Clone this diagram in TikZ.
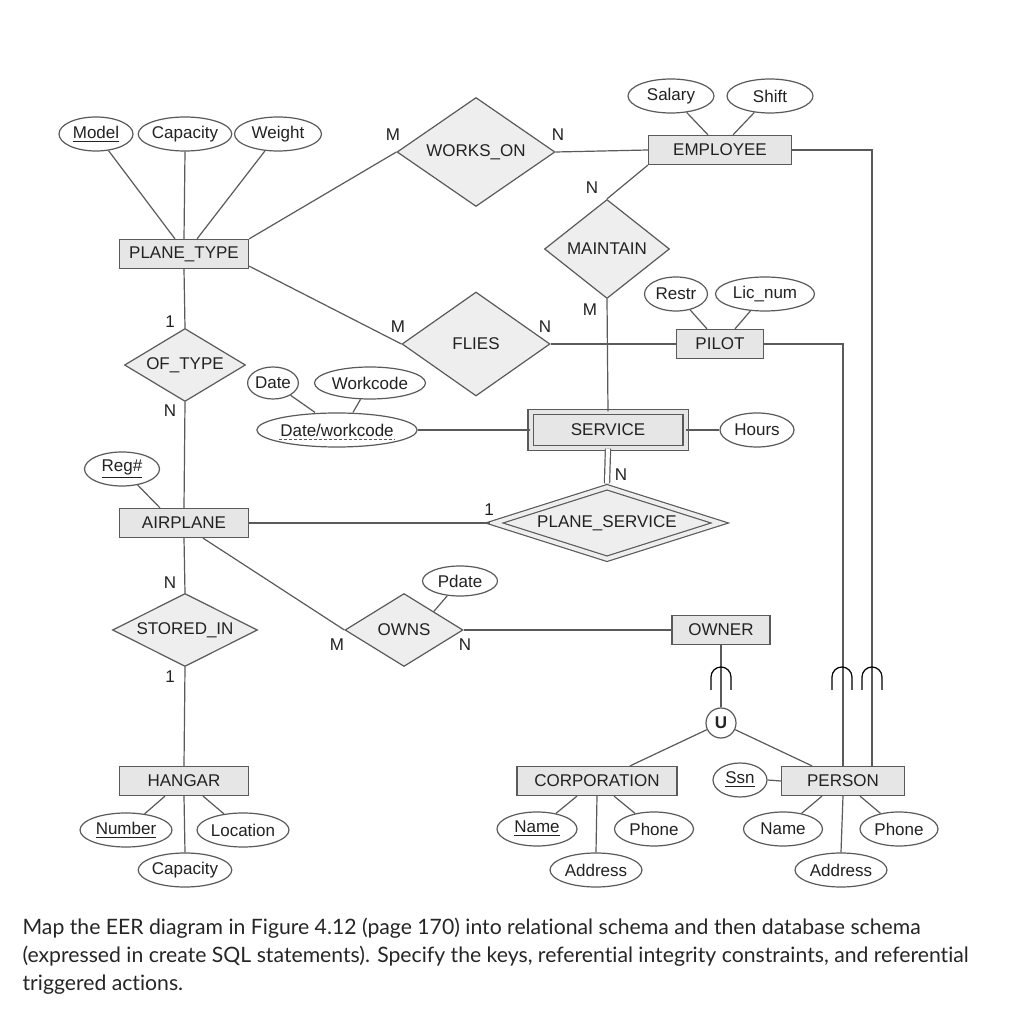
\documentclass[tikz,border=0pt]{standalone}
\usepackage{fontspec}
\setmainfont{Liberation Sans}
\newfontfamily\taskfont[Ligatures=NoCommon]{Lato}
\usetikzlibrary{shapes.geometric}
\definecolor{erline}{HTML}{5A5A5A}
\definecolor{erbox}{HTML}{E6E6E6}
\definecolor{erdia}{HTML}{EEEEEE}
\definecolor{ertext}{HTML}{222222}

\begin{document}
\begin{tikzpicture}[x=0.5pt,y=-0.5pt,line width=0.6pt,
    every node/.style={text=ertext,font=\fontsize{8.5}{10}\selectfont},
    entity/.style={rectangle,draw=erline,fill=erbox,minimum width=64.5pt,minimum height=14.5pt,inner sep=0pt},
    weak/.style={entity,double=erbox,double distance=2pt},
    rel/.style={diamond,aspect=2.5,draw=erline,fill=erdia,inner sep=0pt},
    idrel/.style={rel,aspect=3,double=erdia,double distance=2pt},
    attr/.style={ellipse,draw=erline,fill=white,inner xsep=0pt,inner ysep=0pt,minimum height=17pt},
    card/.style={inner sep=0pt},
    union/.style={circle,draw=erline,fill=white,minimum size=15pt,inner sep=0pt,font=\fontsize{8.5}{10}\selectfont\bfseries},
    link/.style={draw=erline},
  ]
  \fill[white] (0,0) rectangle (1024,1010);
  \useasboundingbox (0,0) rectangle (1024,1010);

  % entities
  \node[entity] (ptype) at (184,254) {PLANE\_TYPE};
  \node[entity,minimum width=71.5pt] (emp) at (720,150) {EMPLOYEE};
  \node[entity,minimum width=43.5pt] (pilot) at (720,344) {PILOT};
  \node[weak,minimum width=77.5pt,minimum height=18pt] (serv) at (608,430) {SERVICE};
  \node[entity] (airplane) at (184,523) {AIRPLANE};
  \node[entity,minimum width=49pt] (owner) at (721,630) {OWNER};
  \node[entity] (hangar) at (184,781) {HANGAR};
  \node[entity,minimum width=80pt] (corp) at (597,781) {CORPORATION};
  \node[entity,minimum width=61.5pt] (person) at (843,781) {PERSON};

  % relationships
  \node[rel,minimum width=79pt,minimum height=54.5pt] (works) at (476,152) {WORKS\_ON};
  \node[rel,minimum width=62.5pt,minimum height=49.5pt] (maint) at (607,249) {MAINTAIN};
  \node[rel,minimum width=74pt,minimum height=52pt] (flies) at (476,344) {FLIES};
  \node[rel,minimum width=60.5pt,minimum height=36.5pt] (oftype) at (185,365) {OF\_TYPE};
  \node[idrel,minimum width=113pt,minimum height=36pt] (pserv) at (607,523) {PLANE\_SERVICE};
  \node[rel,minimum width=72.5pt,minimum height=36.5pt] (stored) at (185,630) {STORED\_IN};
  \node[rel,minimum width=59pt,minimum height=36.5pt] (owns) at (404,630) {OWNS};
  \node[union] (un) at (721,723) {U};

  % attributes
  \node[attr,minimum width=37pt] (model) at (96,134) {\underline{Model}};
  \node[attr,minimum width=46.5pt] (ptcap) at (185,134) {Capacity};
  \node[attr,minimum width=43.5pt] (weight) at (278,134) {Weight};
  \node[attr,minimum width=43pt] (salary) at (671,96) {Salary};
  \node[attr,minimum width=43pt] (shift) at (770,96) {Shift};
  \node[attr,minimum width=31.5pt] (restr) at (676,294) {Restr};
  \node[attr,minimum width=49.5pt] (licnum) at (765,294) {Lic\_num};
  \node[attr,minimum width=24pt,minimum height=16pt] (date) at (273,383) {Date};
  \node[attr,minimum width=55.5pt,minimum height=16pt] (workcode) at (370,383) {Workcode};
  \node[attr,minimum width=80pt] (dw) at (337,430) {Date/workcode};
  \node[attr,minimum width=37pt] (hours) at (757,430) {Hours};
  \node[attr,minimum width=37.5pt] (reg) at (122,469) {\underline{Reg\#}};
  \node[attr,minimum width=37.5pt,minimum height=15pt] (pdate) at (460,581) {Pdate};
  \node[attr,minimum width=27pt] (ssn) at (740,780) {\underline{Ssn}};
  \node[attr,minimum width=46pt] (hnum) at (126,830) {\underline{Number}};
  \node[attr,minimum width=46pt] (hloc) at (243,830) {Location};
  \node[attr,minimum width=46.5pt] (hcap) at (185,870) {Capacity};
  \node[attr,minimum width=40pt] (cname) at (537,829) {\underline{Name}};
  \node[attr,minimum width=39.5pt] (cphone) at (654,829) {Phone};
  \node[attr,minimum width=46pt] (caddr) at (596,870) {Address};
  \node[attr,minimum width=39.5pt] (pname) at (783,829) {Name};
  \node[attr,minimum width=39pt] (pphone) at (899,829) {Phone};
  \node[attr,minimum width=46pt] (paddr) at (841,870) {Address};
  \draw[erline,dashed,line width=0.4pt,dash pattern=on 1.5pt off 1pt]
    ([xshift=-29pt,yshift=-1.8pt]dw.base) -- ([xshift=29pt,yshift=-1.8pt]dw.base);

  % cardinalities
  \node[card] (worksM) at (393,135) {M};
  \node[card] (worksN) at (558,135) {N};
  \node[card] (maintN) at (592,188) {N};
  \node[card] (maintM) at (590,310) {M};
  \node[card] (fliesM) at (398,327) {M};
  \node[card] (fliesN) at (545,327) {N};
  \node[card] (oftype1) at (170,322) {1};
  \node[card] (oftypeN) at (170,411) {N};
  \node[card] (pservN) at (621,475) {N};
  \node[card] (pserv1) at (489,510) {1};
  \node[card] (storedN) at (170,583) {N};
  \node[card] (stored1) at (170,677) {1};
  \node[card] (ownsM) at (337,645) {M};
  \node[card] (ownsN) at (465,645) {N};

  \node[anchor=north west,align=left,inner sep=0pt,text=black!85,
        font=\taskfont\fontsize{10.6}{14}\selectfont] (task) at (22,917)
    {Map the EER diagram in Figure 4.12 (page 170) into relational schema and then database schema\\
     (expressed in create SQL statements). Specify the keys, referential integrity constraints, and referential\\
     triggered actions.};

  % connectors
  \draw[link] ([xshift=-4.5pt]ptype.north) to (model);
  \draw[link] (ptype.north) to (ptcap.south);
  \draw[link] ([xshift=6.5pt]ptype.north) to (weight);
  \draw[link] (ptype.north east) to (works.west);
  \draw[link] ([yshift=1.5pt]ptype.south east) to (flies.west);
  \draw[link] (ptype.south) to (oftype.north);
  \draw[link] (works.east) to (emp.west);
  \draw[link] ([xshift=-6pt]emp.north) to (salary);
  \draw[link] ([xshift=6.5pt]emp.north) to (shift);
  \draw[link] (emp.south west) to (maint.north);
  \draw[link] (maint.south) to (serv.north);
  \draw[link] (flies.east) to (pilot.west);
  \draw[link] ([xshift=-6.5pt]pilot.north) to (restr);
  \draw[link] ([xshift=7.5pt]pilot.north) to (licnum);
  \draw[link] (pilot.east) -| (person.north);
  \draw[link] (emp.east) -| ([xshift=14.5pt]person.north);
  \draw[link] (date) to ([xshift=-11pt]dw.north);
  \draw[link] (workcode) to ([xshift=8pt]dw.north);
  \draw[link] (dw.east) to (serv.west);
  \draw[link] (serv.east) to (hours.west);
  \draw[link,double=white,double distance=2pt] (serv.south) to ([yshift=1.5pt]pserv.north);
  \draw[link] (airplane.east) to ([xshift=-1.5pt]pserv.west);
  \draw[link] (reg) to ([xshift=-12pt]airplane.north);
  \draw[link] (oftype.south) to (airplane.north);
  \draw[link] (airplane.south) to (stored.north);
  \draw[link] (stored.south) to (hangar.north);
  \draw[link] ([xshift=9.5pt]airplane.south) to (owns.west);
  \draw[link] (owns.east) to (owner.west);
  \draw[link] (pdate) to (owns.north east);
  \draw[link] (owner.south) to (un.north);
  \draw[link] (un) to ([xshift=16.5pt]corp.north);
  \draw[link] (un) to ([xshift=-15.5pt]person.north);
  \draw[link] (ssn.east) to (person.west);
  \draw[link] ([xshift=-10pt]corp.south) to (cname);
  \draw[link] (corp.south) to (caddr.north);
  \draw[link] ([xshift=8.5pt]corp.south) to (cphone);
  \draw[link] ([xshift=-10.5pt]person.south) to (pname);
  \draw[link] (person.south) to (paddr.north);
  \draw[link] ([xshift=8.5pt]person.south) to (pphone);
  \draw[link] ([xshift=-9.5pt]hangar.south) to (hnum);
  \draw[link] (hangar.south) to (hcap.north);
  \draw[link] ([xshift=9.5pt]hangar.south) to (hloc);

  % subset marks
  \foreach \ux in {721,842,872}
    \draw[black] (\ux-10,690) -- (\ux-10,677) arc (180:360:10) -- (\ux+10,690);
\end{tikzpicture}
\end{document}
